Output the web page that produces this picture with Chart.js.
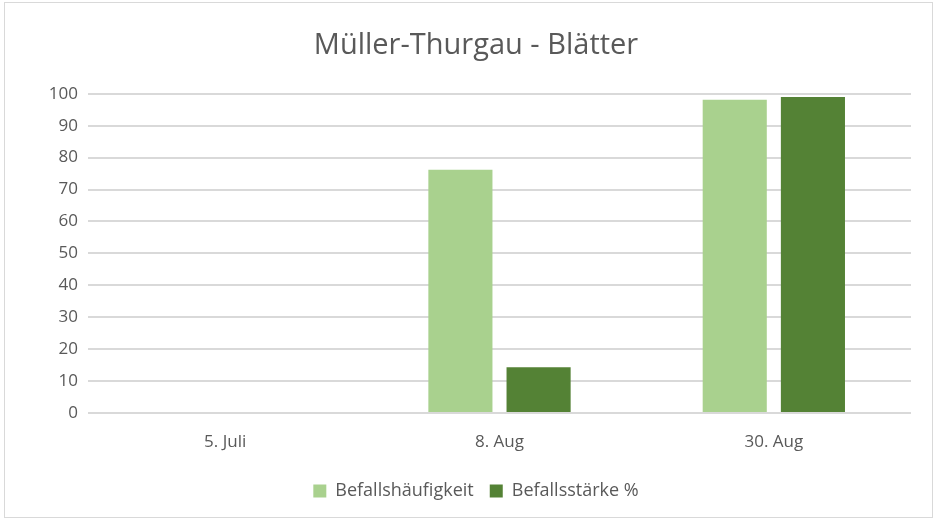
<!DOCTYPE html>
<html>
<head>
<meta charset="utf-8">
<script src="https://cdn.jsdelivr.net/npm/chart.js@4"></script>
<style>
  html, body { margin: 0; padding: 0; background: #fff; }
  #wrap { position: relative; width: 937px; height: 521px; }
  #frame { position: absolute; left: 4px; top: 2px; width: 927px; height: 514px; border: 1px solid #d9d9d9; pointer-events: none; }
</style>
</head>
<body>
<div id="wrap">
  <canvas id="chart" width="937" height="521"></canvas>
  <div id="frame"></div>
</div>
<script>
// chart data
const categories = ['5. Juli', '8. Aug', '30. Aug'];
const befallshaeufigkeit = [null, 76.2, 98.1];
const befallsstaerke = [null, 14.3, 99.0];

const FONT = '"Open Sans", "Noto Sans", sans-serif';
const TEXT = '#595959';

const ctx = document.getElementById('chart').getContext('2d');
new Chart(ctx, {
  type: 'bar',
  data: {
    labels: categories,
    datasets: [
      {
        label: 'Befallshäufigkeit',
        data: befallshaeufigkeit,
        backgroundColor: '#a9d18e',
        barPercentage: 0.82,
        categoryPercentage: 0.57
      },
      {
        label: 'Befallsstärke %',
        data: befallsstaerke,
        backgroundColor: '#548235',
        barPercentage: 0.82,
        categoryPercentage: 0.57
      }
    ]
  },
  options: {
    responsive: false,
    animation: false,
    // left padding keeps title and legend centred like the original
    layout: { padding: { left: 41, right: 26, top: 0, bottom: 11 } },
    plugins: {
      title: {
        display: true,
        text: 'Müller-Thurgau - Blätter',
        color: TEXT,
        font: { family: FONT, size: 29, weight: 'normal' },
        padding: { top: 28, bottom: 31 }
      },
      legend: {
        position: 'bottom',
        labels: {
          color: TEXT,
          font: { family: FONT, size: 18 },
          boxWidth: 13,
          boxHeight: 13,
          padding: 16
        }
      },
      tooltip: { enabled: false }
    },
    scales: {
      x: {
        grid: { display: false, drawTicks: false },
        border: { display: false },
        ticks: { color: TEXT, font: { family: FONT, size: 17 }, padding: 19 },
        afterFit: (s) => { s.height = 53; }
      },
      y: {
        min: 0,
        max: 100,
        ticks: { stepSize: 10, color: TEXT, font: { family: FONT, size: 17 }, padding: 10 },
        grid: { color: '#d9d9d9', lineWidth: 2, drawTicks: false },
        border: { display: false },
        afterFit: (s) => { s.width = 47; }
      }
    }
  }
});
</script>
</body>
</html>
